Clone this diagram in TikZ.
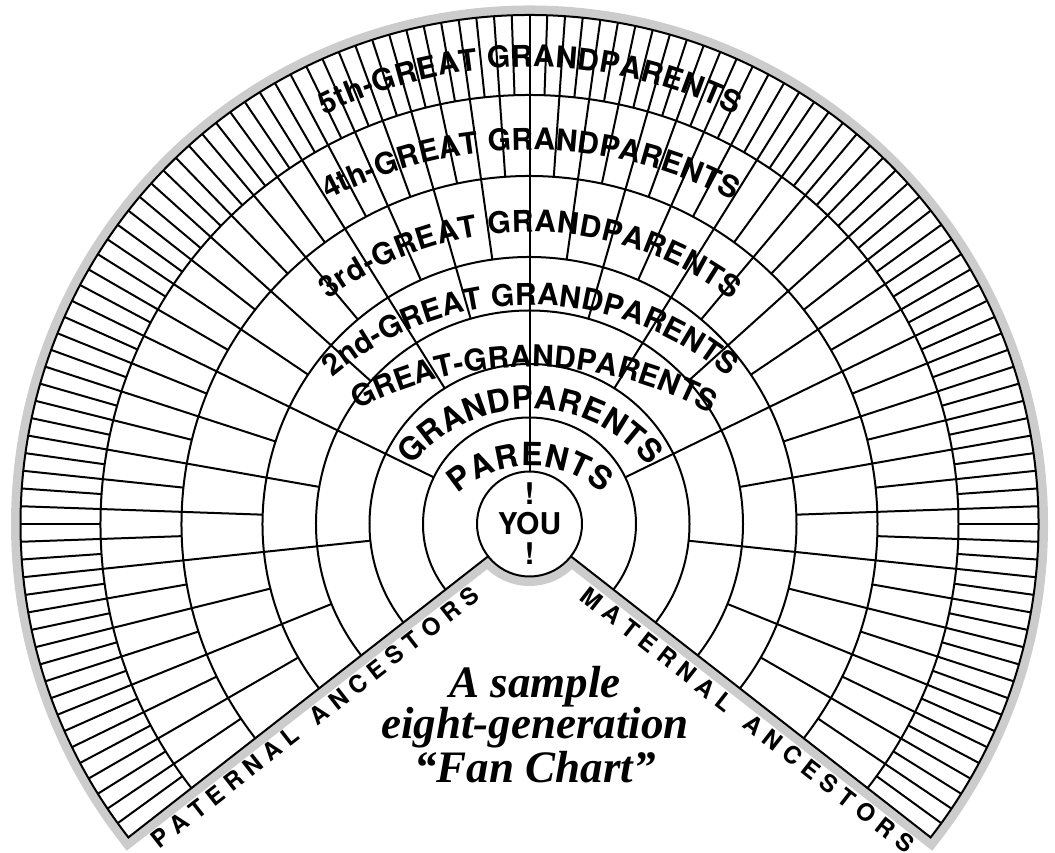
\documentclass[tikz,border=0pt]{standalone}
\usepackage{fontspec}
\setmainfont{TeX Gyre Heros}
\newfontfamily\heros{TeX Gyre Heros}
\newfontfamily\titlefont{Liberation Serif}
\usetikzlibrary{decorations.text,calc}
\definecolor{bordergray}{gray}{0.8}
\tikzset{
  gridline/.style={line width=1pt, black},
  ringlabel/.style={decorate, decoration={text along path, text align={fit to path},
     text={|\heros\bfseries\fontsize{15pt}{18pt}\selectfont|#1}}},
  biglabel/.style={decorate, decoration={text along path, text align={fit to path},
     text={|\heros\bfseries\fontsize{16pt}{19pt}\selectfont|#1}}},
  edgelabel/.style={decorate, decoration={text along path, text align={fit to path},
     text={|\heros\bfseries\fontsize{12pt}{14pt}\selectfont|#1}}},
  youtext/.style={anchor=base, inner sep=0pt, font=\heros\bfseries\fontsize{15pt}{18pt}\selectfont},
  titletext/.style={anchor=base, inner sep=0pt, font=\titlefont\bfseries\itshape\fontsize{22.5pt}{25pt}\selectfont},
}
\begin{document}
\begin{tikzpicture}[x=0.5pt,y=0.5pt]
\useasboundingbox (0,0) rectangle (1055,852);
\begin{scope}[shift={(529.5,328)}]
  % gray border
  \draw[draw=bordergray, line width=9.5pt]
    (218:509) -- (218:52.5) arc[start angle=218,end angle=322,radius=52.5]
    -- (322:509) arc[start angle=-38,end angle=218,radius=509] -- cycle;
  \fill[white]
    (218:509) -- (218:52.5) arc[start angle=218,end angle=322,radius=52.5]
    -- (322:509) arc[start angle=-38,end angle=218,radius=509] -- cycle;
  % ring arcs
  \foreach \r in {106.5,160,213.5,267,348,429}
    \draw[gridline] (218:\r) arc[start angle=218,end angle=-38,radius=\r];
  % dividers
  \foreach \k/\ri/\ro in {1/52.5/106.5,2/106.5/160,3/160/213.5,4/213.5/267,5/267/348,6/348/429,7/429/509}{
    \pgfmathtruncatemacro\nn{2^\k-1}
    \pgfmathsetmacro\dth{256/2^\k}
    \foreach \j in {1,...,\nn}{
      \pgfmathsetmacro\ang{218-\j*\dth}
      \draw[gridline] (\ang:\ri) -- (\ang:\ro);
    }
  }
  % outline
  \draw[gridline] (-38:52.5) -- (-38:509) arc[start angle=-38,end angle=218,radius=509] -- (218:52.5);
  \draw[gridline, fill=white] (0,0) circle[radius=52.5];
  % edge labels
  \path[edgelabel={PATERNAL ANCESTORS}] ($(218:492)+(308:29)$) -- ($(218:84)+(308:29)$);
  \path[edgelabel={MATERNAL ANCESTORS}] ($(-38:85)+(-128:29)$) -- ($(-38:500)+(-128:29)$);
\end{scope}
% ring labels
\path[biglabel={PARENTS}] ($(530,278)+(132:108)$) arc[start angle=132,end angle=48,radius=108];
\path[biglabel={GRANDPARENTS}] ($(530,292)+(141.5:151)$) arc[start angle=141.5,end angle=38.5,radius=151];
\path[ringlabel={GREAT-GRANDPARENTS}] ($(530,115.5)+(117.9:369.5)$) arc[start angle=117.9,end angle=62.1,radius=369.5];
\path[ringlabel={2nd-GREAT GRANDPARENTS}] ($(530,240)+(130.1:307)$) arc[start angle=130.1,end angle=49.9,radius=307];
\path[ringlabel={3rd-GREAT GRANDPARENTS}] ($(530,286)+(127.2:334)$) arc[start angle=127.2,end angle=52.8,radius=334];
\path[ringlabel={4th-GREAT GRANDPARENTS}] ($(530,269)+(117.8:433)$) arc[start angle=117.8,end angle=62.2,radius=433];
\path[ringlabel={5th-GREAT GRANDPARENTS}] ($(530,323.2)+(116.4:461.8)$) arc[start angle=116.4,end angle=63.6,radius=461.8];
% center text
\node[youtext] (ex1) at (529.5,347) {!};
\node[youtext] (you) at (529.5,317) {YOU};
\node[youtext] (ex2) at (529.5,287) {!};
% title
\node[titletext] (t1) at (535,155) {A sample};
\node[titletext] (t2) at (535,114) {eight-generation};
\node[titletext] (t3) at (535,70) {“Fan Chart”};
\end{tikzpicture}
\end{document}
